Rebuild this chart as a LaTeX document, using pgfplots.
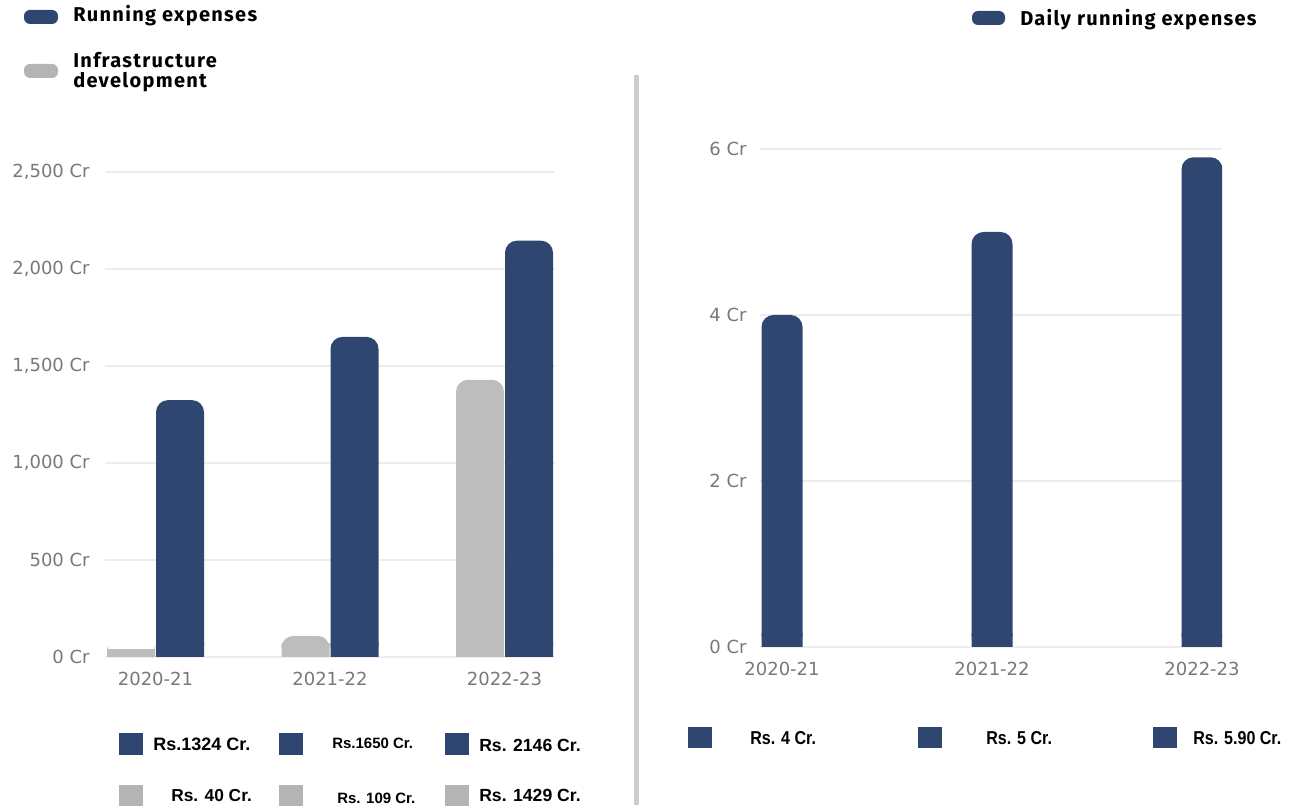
\documentclass[border=0pt]{standalone}
\usepackage{fontspec}
\setmainfont{Liberation Sans}
\newfontfamily\fira[LetterSpace=6.5]{Fira Sans}
\newfontfamily\tickf{DejaVu Sans}
\newfontfamily\cond[FakeStretch=0.86]{Liberation Sans}
\usepackage{pgfplots}
\pgfplotsset{compat=1.18}
\definecolor{navy}{HTML}{2F4670}
\definecolor{barg}{HTML}{BDBDBD}
\definecolor{legg}{HTML}{B4B4B6}
\definecolor{gridc}{HTML}{EDEDED}
\definecolor{tickc}{HTML}{7C7676}
\definecolor{sepc}{HTML}{CCCCCC}
\pgfplotsset{
  base/.style={
    scale only axis, anchor=south west,
    axis line style={draw=none},
    major tick length=0pt,
    ymajorgrids, grid style={gridc, line width=0.8pt},
    /pgf/number format/assume math mode=true,
    tick label style={text=tickc, font=\tickf\fontsize{13.5pt}{15pt}\selectfont},
    xtick={0,1,2}, xticklabels={2020-21,2021-22,2022-23},
    xticklabel style={yshift=-8pt},
    yticklabel={\pgfmathprintnumber{\tick}~Cr},
  },
  band/.style={scale only axis, anchor=south west, hide axis, ymin=0},
}
\begin{document}
\begin{tikzpicture}
\useasboundingbox (0,0) rectangle (979.5pt,606.75pt);

% ---------------- left chart ----------------
\begin{axis}[base,
  at={(78.75pt,114pt)}, width=337.5pt, height=363.75pt,
  xmin=-0.2894, xmax=2.2894, ymin=0, ymax=2500,
  ytick={0,500,1000,1500,2000,2500},
  yticklabel style={xshift=-8pt},
]
\addplot[ybar, bar width=36pt, bar shift=18.375pt, fill=navy, draw=none, rounded corners=9pt]
  coordinates {(0,1324) (1,1650) (2,2146)};
\addplot[ybar, bar width=36pt, bar shift=-18.375pt, fill=barg, draw=none, rounded corners=9pt]
  coordinates {(0,40) (1,109) (2,1429)};
\end{axis}
\begin{axis}[band,
  at={(78.75pt,114pt)}, width=337.5pt, height=9.75pt,
  xmin=-0.2894, xmax=2.2894, ymax=67.0,
]
\addplot[ybar, bar width=36pt, bar shift=18.375pt, fill=navy, draw=none]
  coordinates {(0,1324) (1,1650) (2,2146)};
\addplot[ybar, bar width=36pt, bar shift=-18.375pt, fill=barg, draw=none]
  coordinates {(0,40) (1,109) (2,1429)};
\end{axis}

% ---------------- right chart ----------------
\begin{axis}[base,
  at={(570pt,121.5pt)}, width=346.5pt, height=373.5pt,
  xmin=-0.1048, xmax=2.0952, ymin=0, ymax=6,
  ytick={0,2,4,6},
  yticklabel style={xshift=-6.5pt},
]
\addplot[ybar, bar width=30.75pt, fill=navy, draw=none, rounded corners=9pt]
  coordinates {(0,4) (1,5) (2,5.9)};
\end{axis}
\begin{axis}[band,
  at={(570pt,121.5pt)}, width=346.5pt, height=9.75pt,
  xmin=-0.1048, xmax=2.0952, ymax=0.15663,
]
\addplot[ybar, bar width=30.75pt, fill=navy, draw=none]
  coordinates {(0,4) (1,5) (2,5.9)};
\end{axis}

% ---------------- legends, separator, value boxes (pixel coordinates) ----------------
\begin{scope}[x=0.75pt, y=-0.75pt, shift={(0pt,606.75pt)}]
\fill[sepc] (634,75) rectangle (639,805);

\fill[navy, rounded corners=4.5pt] (24,10) rectangle (58,24);
\node[anchor=base west, inner sep=0pt, font=\fira\bfseries\fontsize{15pt}{17pt}\selectfont] at (73,21.5) {Running expenses};
\fill[legg, rounded corners=4.5pt] (24,64) rectangle (58,78);
\node[anchor=base west, inner sep=0pt, font=\fira\bfseries\fontsize{15pt}{17pt}\selectfont] at (73,68) {Infrastructure};
\node[anchor=base west, inner sep=0pt, font=\fira\bfseries\fontsize{15pt}{17pt}\selectfont] at (73,88) {development};

\fill[navy, rounded corners=4.5pt] (972,11) rectangle (1005,25);
\node[anchor=base west, inner sep=0pt, font=\fira\bfseries\fontsize{15pt}{17pt}\selectfont] at (1020,26) {Daily running expenses};

% left value boxes
\fill[navy] (119,733) rectangle (143,755);
\fill[navy] (279,733) rectangle (303,755);
\fill[navy] (445,733) rectangle (469,755);
\fill[legg] (119,785) rectangle (143,806);
\fill[legg] (279,785) rectangle (303,806);
\fill[legg] (445,785) rectangle (469,806);
\node[anchor=west, inner sep=0pt, font=\bfseries\fontsize{13.5pt}{15pt}\selectfont] at (153,744) {Rs.1324 Cr.};
\node[anchor=west, inner sep=0pt, font=\bfseries\fontsize{11.25pt}{13pt}\selectfont] at (332,743) {Rs.1650 Cr.};
\node[anchor=west, inner sep=0pt, font=\bfseries\fontsize{13.2pt}{15pt}\selectfont] at (479,745) {Rs. 2146 Cr.};
\node[anchor=west, inner sep=0pt, font=\bfseries\fontsize{13pt}{15pt}\selectfont] at (171,796) {Rs. 40 Cr.};
\node[anchor=west, inner sep=0pt, font=\bfseries\fontsize{11.25pt}{13pt}\selectfont] at (337,798) {Rs. 109 Cr.};
\node[anchor=west, inner sep=0pt, font=\bfseries\fontsize{13.2pt}{15pt}\selectfont] at (479,795) {Rs. 1429 Cr.};

% right value boxes
\fill[navy] (688,727) rectangle (712,748);
\fill[navy] (918,727) rectangle (942,748);
\fill[navy] (1153,727) rectangle (1177,748);
\node[anchor=west, inner sep=0pt, font=\cond\bfseries\fontsize{14pt}{16pt}\selectfont] at (750,738) {Rs. 4 Cr.};
\node[anchor=west, inner sep=0pt, font=\cond\bfseries\fontsize{14pt}{16pt}\selectfont] at (986,738) {Rs. 5 Cr.};
\node[anchor=west, inner sep=0pt, font=\cond\bfseries\fontsize{14pt}{16pt}\selectfont] at (1193,738) {Rs. 5.90 Cr.};
\end{scope}
\end{tikzpicture}
\end{document}
